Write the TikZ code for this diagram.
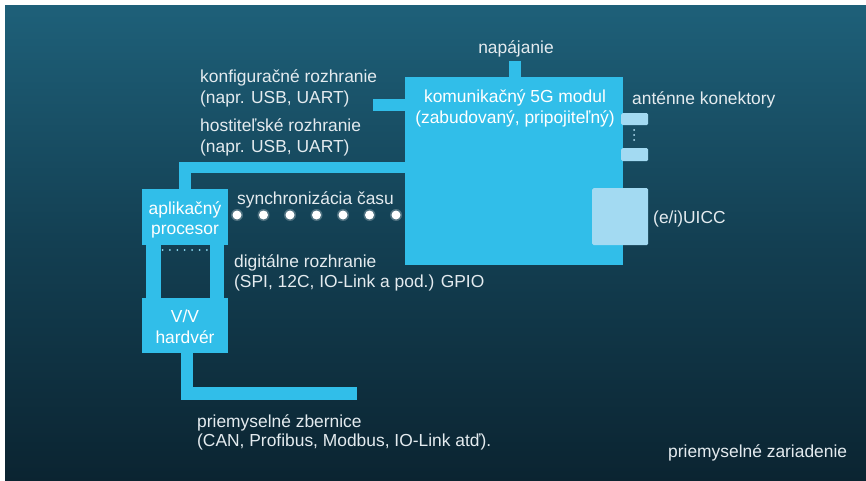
\documentclass[tikz,border=0pt]{standalone}
\usepackage{fontspec}
\setmainfont{Liberation Sans}
\usetikzlibrary{calc}
\definecolor{bgtop}{HTML}{1E6079}
\definecolor{bgmid}{HTML}{133F52}
\definecolor{bgbot}{HTML}{0B2431}
\definecolor{cyanbox}{HTML}{31BEE9}
\definecolor{lightbox}{HTML}{A3DAF2}
\definecolor{txt}{HTML}{E4EBEF}
\begin{document}
\begin{tikzpicture}[x=1pt,y=-1pt,
  lbl/.style={text=txt, font=\fontsize{17.4}{21}\selectfont, inner sep=0pt},
  blk/.style={fill=cyanbox, draw=none, inner sep=0pt},
  lite/.style={fill=lightbox, draw=none, inner sep=0pt, rounded corners=1.5pt},
  bus/.style={draw=cyanbox, line width=12pt, line join=miter},
  syncdot/.style={fill=white, draw=none}]
\useasboundingbox (0,0) rectangle (866,481);
% backdrop
\fill[white] (0,0) rectangle (866,481);
\shade[top color=bgtop, bottom color=bgbot, middle color=bgmid] (5,6) rectangle (866,481);

% blocks
\node[blk, anchor=north west, minimum width=218pt, minimum height=188pt] (mod) at (405,77) {};
\node[blk, anchor=north west, minimum width=86pt, minimum height=56pt] (proc) at (142,189) {};
\node[blk, anchor=north west, minimum width=86pt, minimum height=55pt] (vv) at (142,298) {};
\node[lite, anchor=north west, minimum width=27pt, minimum height=12pt] (ant1) at (621,113) {};
\node[lite, anchor=north west, minimum width=27pt, minimum height=13pt] (ant2) at (621,148) {};
\node[lite, anchor=north west, minimum width=56pt, minimum height=57pt] (uicc) at (592,188) {};

% free ends of stubs
\coordinate (cfg) at (373,105);
\coordinate (pwr) at (515,61);
\coordinate (hostY) at (0,167.5);
\coordinate (busend) at (357,393.5);

% connectors
\draw[bus] (pwr) -- (pwr |- mod.north);
\draw[bus] (cfg) -- (cfg -| mod.west);
\draw[bus, line width=11.5pt] (hostY -| mod.west) -| (proc.north);
\draw[bus, line width=12.5pt] ([xshift=2pt]vv.south) |- (busend);

% digital interface between processor and I/O hardware
\fill[cyanbox] ($(proc.south west)+(4,0)$) rectangle ($(vv.north west)+(19,0)$);
\fill[cyanbox] ($(proc.south east)+(-18,0)$) rectangle ($(vv.north east)+(-4,0)$);
\foreach \i in {0,...,6}
  \fill[cyanbox!55!white] (162.5+7.4*\i,250) circle (1pt);

% antenna dots
\foreach \yy in {130,135,140}
  \fill[lightbox!80!white] (634,\yy) circle (1pt);

% time sync dots
\foreach \i in {0,...,6} {
  \fill[white, opacity=0.25] (237+26.5*\i,215) circle (6pt);
  \fill[syncdot] (237+26.5*\i,215) circle (4.5pt);
}

% labels
\node[lbl, text=white, anchor=base] (modA) at (515,103) {komunikačný 5G modul};
\node[lbl, text=white, anchor=base] (modB) at (515,124) {(zabudovaný, pripojiteľný)};
\node[lbl, anchor=base] (pwrL) at (516,54) {napájanie};
\node[lbl, anchor=base west] (cfgA) at (200,83) {konfiguračné rozhranie};
\node[lbl, anchor=base west] (cfgB) at (200,104) {(napr. USB, UART)};
\node[lbl, anchor=base west] (hostA) at (200,132) {hostiteľské rozhranie};
\node[lbl, anchor=base west] (hostB) at (200,153) {(napr. USB, UART)};
\node[lbl, anchor=base west] (antL) at (632,105) {anténne konektory};
\node[lbl, anchor=base west] (uiccL) at (653,223) {(e/i)UICC};
\node[lbl, anchor=base west] (syncL) at (237,204) {synchronizácia času};
\node[lbl, text=white, anchor=base] (procA) at (185,214) {aplikačný};
\node[lbl, text=white, anchor=base] (procB) at (185,234) {procesor};
\node[lbl, anchor=base west] (digA) at (234,267) {digitálne rozhranie};
\node[lbl, anchor=base west] (digB) at (234,287) {(SPI, 12C, IO-Link a pod.) GPIO};
\node[lbl, text=white, anchor=base] (vvA) at (185,322) {V/V};
\node[lbl, text=white, anchor=base] (vvB) at (185,343) {hardvér};
\node[lbl, anchor=base west] (fbA) at (197,427) {priemyselné zbernice};
\node[lbl, anchor=base west] (fbB) at (197,446) {(CAN, Profibus, Modbus, IO-Link atď).};
\node[lbl, anchor=base west] (devL) at (668,457) {priemyselné zariadenie};
\end{tikzpicture}
\end{document}
